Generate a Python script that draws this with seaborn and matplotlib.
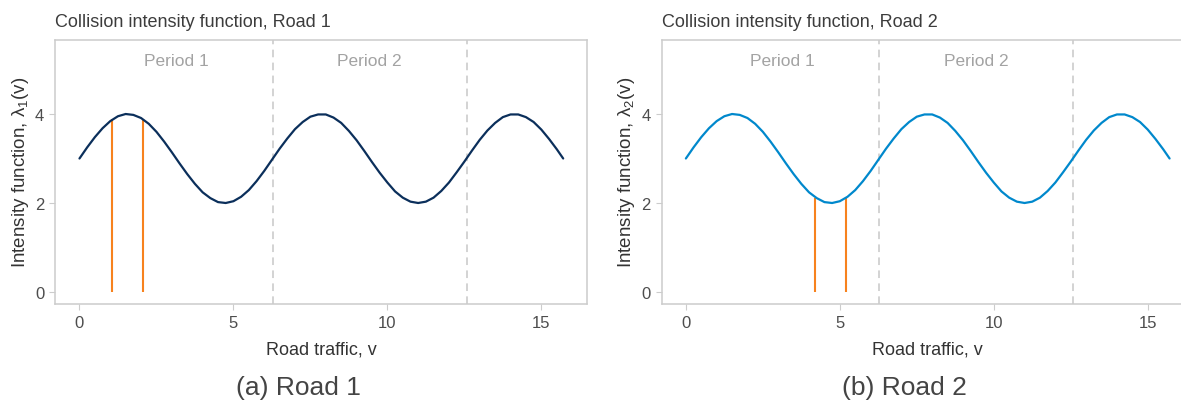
import matplotlib
matplotlib.use("Agg")
import matplotlib.pyplot as plt
import pandas as pd
import seaborn as sns

# curve (same shape on both roads)
traffic = [0.0, 0.25, 0.5, 0.75, 1.0, 1.25, 1.5, 1.75, 2.0, 2.25, 2.5, 2.75,
           3.0, 3.25, 3.5, 3.75, 4.0, 4.25, 4.5, 4.75, 5.0, 5.25, 5.5, 5.75,
           6.0, 6.25, 6.5, 6.75, 7.0, 7.25, 7.5, 7.75, 8.0, 8.25, 8.5, 8.75,
           9.0, 9.25, 9.5, 9.75, 10.0, 10.25, 10.5, 10.75, 11.0, 11.25, 11.5,
           11.75, 12.0, 12.25, 12.5, 12.75, 13.0, 13.25, 13.5, 13.75, 14.0,
           14.25, 14.5, 14.75, 15.0, 15.25, 15.5, 15.71]
intensity = [3.00, 3.25, 3.48, 3.68, 3.84, 3.95, 4.00, 3.98, 3.91, 3.78, 3.60,
             3.38, 3.14, 2.89, 2.65, 2.43, 2.24, 2.11, 2.02, 2.00, 2.04, 2.14,
             2.29, 2.49, 2.72, 2.97, 3.22, 3.45, 3.66, 3.82, 3.94, 3.99, 3.99,
             3.92, 3.80, 3.62, 3.41, 3.17, 2.92, 2.68, 2.46, 2.26, 2.12, 2.03,
             2.00, 2.03, 2.12, 2.27, 2.46, 2.69, 2.93, 3.18, 3.42, 3.63, 3.80,
             3.93, 3.99, 3.99, 3.93, 3.82, 3.65, 3.44, 3.21, 3.00]

period_bounds = [6.28, 12.57]
period_labels = ["Period 1", "Period 2"]
period_label_x = [3.14, 9.42]

roads = ["Road 1", "Road 2"]
road_colors = ["#0b2f5b", "#0088cc"]
interval_x = [[1.07, 2.07], [4.21, 5.21]]
interval_top = [[3.88, 3.88], [2.12, 2.12]]
captions = ["(a) Road 1", "(b) Road 2"]

curve = pd.DataFrame({"v": traffic, "lam": intensity})

sns.set_theme(style="white")
plt.rcParams["font.family"] = ["Liberation Sans", "DejaVu Sans"]
plt.rcParams["mathtext.fontset"] = "custom"
plt.rcParams["mathtext.rm"] = "Liberation Sans"

W, H = 1181, 406
fig = plt.figure(figsize=(W / 100, H / 100), dpi=100)

panel_left = [55.3, 661.7]
panel_w, panel_top, panel_bot = 532.0, 40.7, 305.0
caption_x = [298, 904]
ylabel_x = [31, 637]

for i, road in enumerate(roads):
    ax = fig.add_axes([panel_left[i] / W, 1 - panel_bot / H,
                       panel_w / W, (panel_bot - panel_top) / H])

    for b in period_bounds:
        ax.axvline(b, color="#c8c8c8", lw=1.1, dashes=(5, 3.5), zorder=1)

    sns.lineplot(data=curve, x="v", y="lam", ax=ax, color=road_colors[i],
                 lw=1.6, sort=False, estimator=None, zorder=3)
    ax.vlines(interval_x[i], 0, interval_top[i], color="#f7821e", lw=1.5,
              zorder=2)

    for lx, lab in zip(period_label_x, period_labels):
        ax.text(lx, 5.2, lab, ha="center", va="center", fontsize=12.5,
                color="#a3a3a3")

    ax.set_xlim(-0.785, 16.493)
    ax.set_ylim(-0.27, 5.67)
    ax.set_xticks([0, 5, 10, 15])
    ax.set_yticks([0, 2, 4])
    ax.tick_params(axis="both", length=4, width=0.8, color="#cccccc",
                   labelsize=12, labelcolor="#4d4d4d", pad=4, left=True,
                   bottom=True)
    for s in ax.spines.values():
        s.set_color("#cccccc")
        s.set_linewidth(1.1)

    ax.set_xlabel("Road traffic, v", fontsize=13, color="#333333")
    ax.set_ylabel(r"Intensity function, $\mathregular{\lambda_{%d}(v)}$" % (i + 1),
                  fontsize=13.5, color="#333333")
    ax.xaxis.set_label_coords(0.5, -0.139)
    ax.yaxis.set_label_coords((ylabel_x[i] - panel_left[i]) / panel_w, 0.5)

    fig.text(panel_left[i] / W, 1 - 27 / H, f"Collision intensity function, {road}",
             fontsize=13, color="#3c3c3c", ha="left", va="baseline")
    fig.text(caption_x[i] / W, 1 - 395 / H, captions[i], fontsize=19,
             color="#444444", ha="center", va="baseline")

fig.savefig("out.png", dpi=100)
